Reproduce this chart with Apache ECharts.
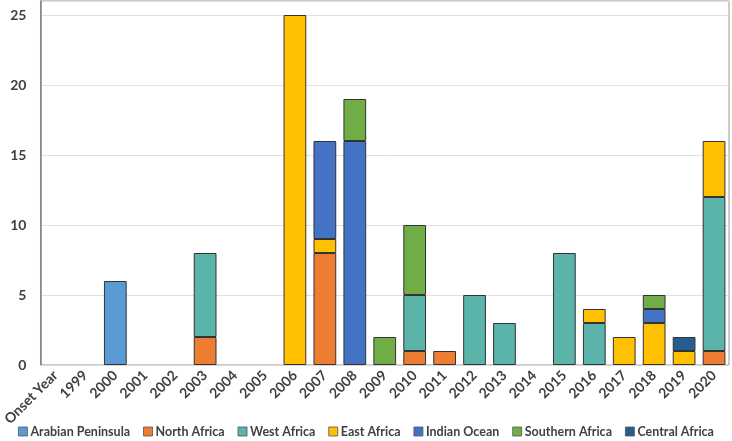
<!DOCTYPE html>
<html><head><meta charset="utf-8">
<script src="https://cdn.jsdelivr.net/npm/echarts@6/dist/echarts.min.js"></script>
<style>html,body{margin:0;padding:0;background:#fff}#c{width:732px;height:441px}</style>
</head><body><div id="c"></div>
<script>
var categories = ['Onset Year','1999','2000','2001','2002','2003','2004','2005','2006','2007','2008','2009','2010','2011','2012','2013','2014','2015','2016','2017','2018','2019','2020'];
var arabianPeninsula = [0,0,6,0,0,0,0,0,0,0,0,0,0,0,0,0,0,0,0,0,0,0,0];
var northAfrica      = [0,0,0,0,0,2,0,0,0,8,0,0,1,1,0,0,0,0,0,0,0,0,1];
var westAfrica       = [0,0,0,0,0,6,0,0,0,0,0,0,4,0,5,3,0,8,3,0,0,0,11];
var eastAfrica       = [0,0,0,0,0,0,0,0,25,1,0,0,0,0,0,0,0,0,1,2,3,1,4];
var indianOcean      = [0,0,0,0,0,0,0,0,0,7,16,0,0,0,0,0,0,0,0,0,1,0,0];
var southernAfrica   = [0,0,0,0,0,0,0,0,0,0,3,2,5,0,0,0,0,0,0,0,1,0,0];
var centralAfrica    = [0,0,0,0,0,0,0,0,0,0,0,0,0,0,0,0,0,0,0,0,0,1,0];
var yTicks = [0,5,10,15,20,25];

var seriesDefs = [
  ['Arabian Peninsula', arabianPeninsula, '#5B9BD5'],
  ['North Africa', northAfrica, '#ED7D31'],
  ['West Africa', westAfrica, '#5AB4AA'],
  ['East Africa', eastAfrica, '#FFC000'],
  ['Indian Ocean', indianOcean, '#4472C4'],
  ['Southern Africa', southernAfrica, '#70AD47'],
  ['Central Africa', centralAfrica, '#255E91']
];
var font = 'Lato';
var chart = echarts.init(document.getElementById('c'));
chart.setOption({
  animation:false,
  grid:{left:36,right:3,top:1,bottom:76,show:true,borderColor:'#9a9a9a',borderWidth:1},
  legend:{bottom:3,left:'center',width:730,padding:[0,0],itemWidth:9,itemHeight:9,itemGap:13,
    textStyle:{fontFamily:font,fontWeight:'bold',fontSize:12.5,color:'#404040',padding:[0,0,0,-2]},
    data:seriesDefs.map(function(s){return {name:s[0],icon:'rect',itemStyle:{borderColor:'#555',borderWidth:0.8}};})},
  xAxis:{type:'category',data:categories,
    axisLine:{lineStyle:{color:'#d9d9d9'}},axisTick:{show:false},
    axisLabel:{rotate:45,interval:0,fontFamily:font,fontWeight:'bold',fontSize:14,color:'#404040',margin:8}},
  yAxis:{type:'value',min:0,max:26,interval:5,
    axisLine:{show:true,lineStyle:{color:'#808080',width:1.5}},axisTick:{show:false},
    axisLabel:{fontFamily:font,fontWeight:'bold',fontSize:14,color:'#404040',margin:14,showMaxLabel:false,
      formatter:function(v){return yTicks.indexOf(v)>=0?String(v):'';}},
    splitLine:{lineStyle:{color:'#e0e0e0'}}},
  series:seriesDefs.map(function(s){
    return {name:s[0],type:'bar',stack:'a',barCategoryGap:'24%',
      data:s[1].map(function(v){return v===0?null:v;}),
      itemStyle:{color:s[2],borderColor:'#333',borderWidth:1}};
  })
});
</script></body></html>
